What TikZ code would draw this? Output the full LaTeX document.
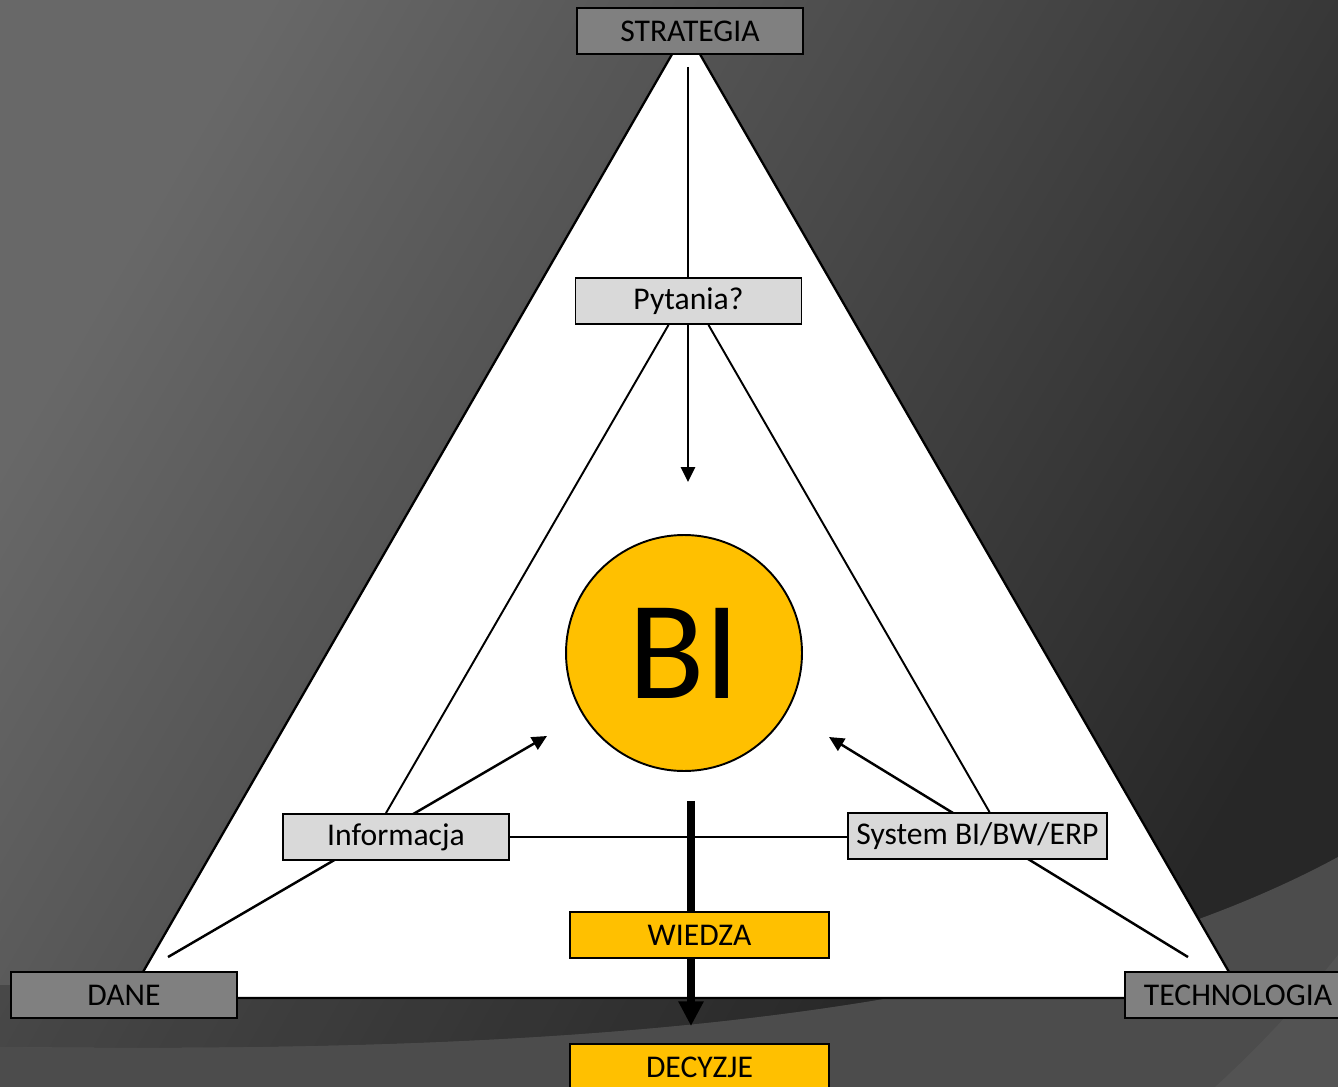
\documentclass[tikz,border=0pt]{standalone}
\usepackage{fontspec}
\setmainfont{Carlito}
\usepackage{tikz}
\usetikzlibrary{arrows,arrows.meta}
\pgfdeclarelayer{background}
\pgfdeclarelayer{connect}
\pgfsetlayers{background,connect,main}
\definecolor{bglight}{HTML}{686868}
\definecolor{bgdark}{HTML}{272727}
\definecolor{swoosh}{HTML}{4C4C4C}
\definecolor{cornergray}{HTML}{808080}
\definecolor{innergray}{HTML}{D9D9D9}
\definecolor{biyellow}{HTML}{FFC000}

\begin{document}
\begin{tikzpicture}[x=0.02cm,y=-0.02cm,
	box/.style={draw=black,line width=1.1pt,minimum width=4.52cm,minimum height=0.92cm,inner sep=0pt,font=\fontsize{18}{20}\selectfont},
	corner/.style={box,fill=cornergray},
	inner/.style={box,fill=innergray},
	gold/.style={box,fill=biyellow,minimum width=5.18cm},
	link/.style={line width=1.1pt},
	pointer/.style={line width=1.4pt,-{Triangle[length=8.5pt,width=8pt]}},
	bigpointer/.style={line width=4.5pt,-{Triangle[length=14pt,width=13.5pt]}}]
	\useasboundingbox (0,0) rectangle (1338,1087);
	\begin{pgfonlayer}{background}
		\shade[top color=bglight,bottom color=bgdark,shading angle=60] (0,0) rectangle (1338,1087);
		\begin{scope}
			\clip (0,0) rectangle (1000,1087);
			\fill[black,opacity=0.2] (0,985) .. controls (450,990) and (1000,980) .. (1338,820) -- (1338,857) .. controls (1000,1040) and (450,1052) .. (0,1047) -- cycle;
		\end{scope}
		\fill[swoosh] (0,1047) .. controls (450,1052) and (1000,1040) .. (1338,857) -- (1338,1087) -- (0,1087) -- cycle;
		\fill[white,opacity=0.04] (1338,955) .. controls (1290,1015) and (1250,1055) .. (1215,1087) -- (1338,1087) -- cycle;
		\draw[fill=white,line width=1.3pt] (686,30) -- (128,998) -- (1244,998) -- cycle;
	\end{pgfonlayer}

	\node[corner] (strategia) at (690,31) {STRATEGIA};
	\node[inner] (pytania) at (688.5,301) {Pytania?};
	\node[inner] (informacja) at (396,837) {Informacja};
	\node[inner,minimum width=5.18cm] (system) at (977.5,836) {System BI/BW/ERP};
	\node[corner] (dane) at (124,995) {DANE};
	\node[corner] (technologia) at (1238,995) {TECHNOLOGIA};
	\node[gold] (wiedza) at (699.5,935) {WIEDZA};
	\node[gold] (decyzje) at (699.5,1067) {DECYZJE};
	\node[circle,draw=black,fill=biyellow,line width=1.1pt,minimum size=4.72cm,inner sep=0pt,font=\fontsize{80}{80}\selectfont] (bi) at (684,653) {BI};

	\begin{pgfonlayer}{connect}
		\draw[pointer] ([shift={(-2,12)}]strategia.south) -- ([shift={(4,-52)}]bi.north);
		\draw[link] ([shift={(-20,0)}]pytania.south) -- ([shift={(-10,0)}]informacja.north);
		\draw[link] ([shift={(20,0)}]pytania.south) -- ([shift={(12,0)}]system.north);
		\draw[link] (informacja.east) -- (informacja.east -| system.west);
		\draw[pointer] ([shift={(44,-14)}]dane.north) -- ([shift={(-137,83)}]bi.center);
		\draw[pointer] ([shift={(-50,-14)}]technologia.north) -- ([shift={(145,84)}]bi.center);
		\draw[bigpointer] ([shift={(7,29)}]bi.south) -- ([shift={(-8.5,-17)}]decyzje.north);
	\end{pgfonlayer}
\end{tikzpicture}
\end{document}
